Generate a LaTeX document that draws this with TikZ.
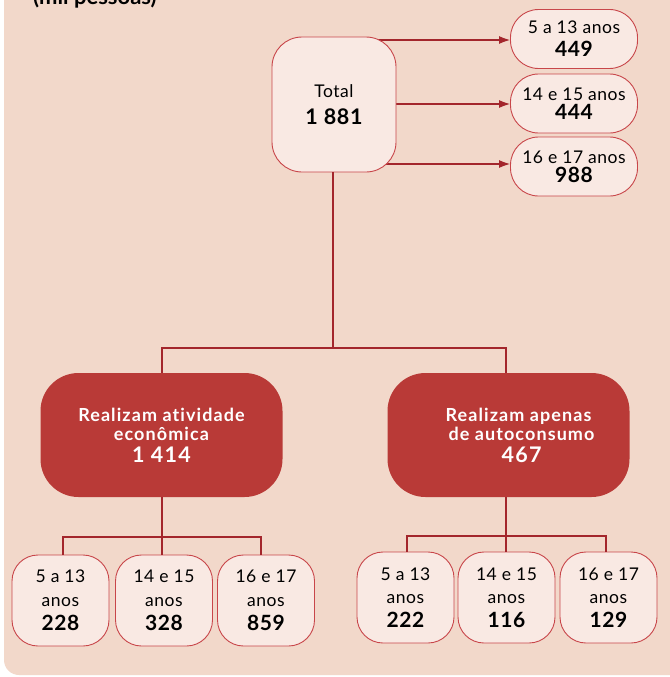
\documentclass[tikz,border=0pt]{standalone}
\usepackage{fontspec}
\setmainfont{Lato}[Ligatures=NoCommon]
\usetikzlibrary{arrows.meta,backgrounds}
\definecolor{panel}{HTML}{F2D8CA}
\definecolor{boxfill}{HTML}{F9E9E3}
\definecolor{boxline}{HTML}{C8464A}
\definecolor{darkbox}{HTML}{B93A37}
\definecolor{conn}{HTML}{A3262C}
\newcommand{\bignum}[1]{{\bfseries\fontsize{21}{20}\selectfont #1}}
\begin{document}
\begin{tikzpicture}[x=1pt,y=-1pt,
  lightbox/.style={draw=boxline, fill=boxfill, line width=0.9pt, inner sep=0pt, align=center,
    font=\fontsize{17.5}{19}\selectfont\addfontfeatures{LetterSpace=3}},
  totalbox/.style={lightbox, rounded corners=30pt, minimum width=124pt, minimum height=135pt},
  agebox/.style={lightbox, rounded corners=28pt, minimum width=127pt, minimum height=59pt},
  smallbox/.style={lightbox, rounded corners=26pt, minimum width=97pt, minimum height=91pt},
  bigbox/.style={fill=darkbox, draw=none, rounded corners=38pt, inner sep=0pt, align=center,
    minimum width=242pt, minimum height=124pt, text=white,
    font=\bfseries\fontsize{18}{19}\selectfont\addfontfeatures{LetterSpace=6}},
  connline/.style={draw=conn, line width=1.1pt},
  arrowline/.style={connline, -{Latex[length=11pt,width=8pt]}}
]
\useasboundingbox (0,0) rectangle (669,677);

\begin{pgfonlayer}{background}
\fill[panel, rounded corners=15pt] (4,-30) rectangle (700,675);
\end{pgfonlayer}

\node[anchor=base west, inner sep=0pt, font=\bfseries\fontsize{22}{24}\selectfont] (title) at (33,5) {(mil pessoas)};

\node[totalbox] (total) at (334,104.5) {Total\\[8pt]{\bfseries\fontsize{21.5}{20}\selectfont 1 881}};

\node[agebox] (r1) at (574,39) {5 a 13 anos\\[4pt]\bignum{449}};
\node[agebox] (r2) at (574,103.5) {14 e 15 anos\\[0pt]\bignum{444}};
\node[agebox] (r3) at (574,166.5) {16 e 17 anos\\[0pt]\bignum{988}};

\node[bigbox] (eco) at (161.5,435) {Realizam atividade\\[0pt]econômica\\[3pt]{\fontsize{21.5}{20}\selectfont 1 414}};
\node[bigbox] (auto) at (508.5,435) {\hspace*{20pt}Realizam apenas\\[0pt]\hspace*{26pt}de autoconsumo\\[3pt]\hspace*{26pt}{\fontsize{21.5}{20}\selectfont 467}};

\node[smallbox] (l1) at (60.5,600.5) {5 a 13\\[5pt]anos\\[5pt]\bignum{228}};
\node[smallbox] (l2) at (164,600.5) {14 e 15\\[5pt]anos\\[5pt]\bignum{328}};
\node[smallbox] (l3) at (266,600.5) {16 e 17\\[5pt]anos\\[5pt]\bignum{859}};

\node[smallbox] (a1) at (405.5,597.5) {5 a 13\\[4pt]anos\\[5pt]\bignum{222}};
\node[smallbox] (a2) at (506.5,597.5) {14 e 15\\[4pt]anos\\[5pt]\bignum{116}};
\node[smallbox] (a3) at (608.5,597.5) {16 e 17\\[4pt]anos\\[5pt]\bignum{129}};

\coordinate (jt) at (333,348);
\coordinate (jl) at (162,537);
\coordinate (ja) at (506,536);

\begin{pgfonlayer}{background}
\draw[arrowline] (total.center |- 0,40) -- (r1.west |- 0,40);
\draw[arrowline] (total.center |- 0,104) -- (r2.west |- 0,104);
\draw[arrowline] (total.center |- 0,164) -- (r3.west |- 0,164);
\end{pgfonlayer}

\draw[connline] (total.south -| jt) -- (jt);
\draw[connline] (eco.north -| jl) -- (jl |- jt) -- (ja |- jt) -- (auto.north -| ja);

\draw[connline] (eco.south -| jl) -- (jl);
\draw[connline] ([xshift=2.5pt]l1.north) -- ([xshift=2.5pt]l1.north |- jl) -- ([xshift=-5pt]l3.north |- jl) -- ([xshift=-5pt]l3.north);
\draw[connline] (jl) -- (l2.north -| jl);

\draw[connline] (auto.south -| ja) -- (ja);
\draw[connline] ([xshift=1.5pt]a1.north) -- ([xshift=1.5pt]a1.north |- ja) -- ([xshift=-2.5pt]a3.north |- ja) -- ([xshift=-2.5pt]a3.north);
\draw[connline] (ja) -- (a2.north -| ja);
\end{tikzpicture}
\end{document}
